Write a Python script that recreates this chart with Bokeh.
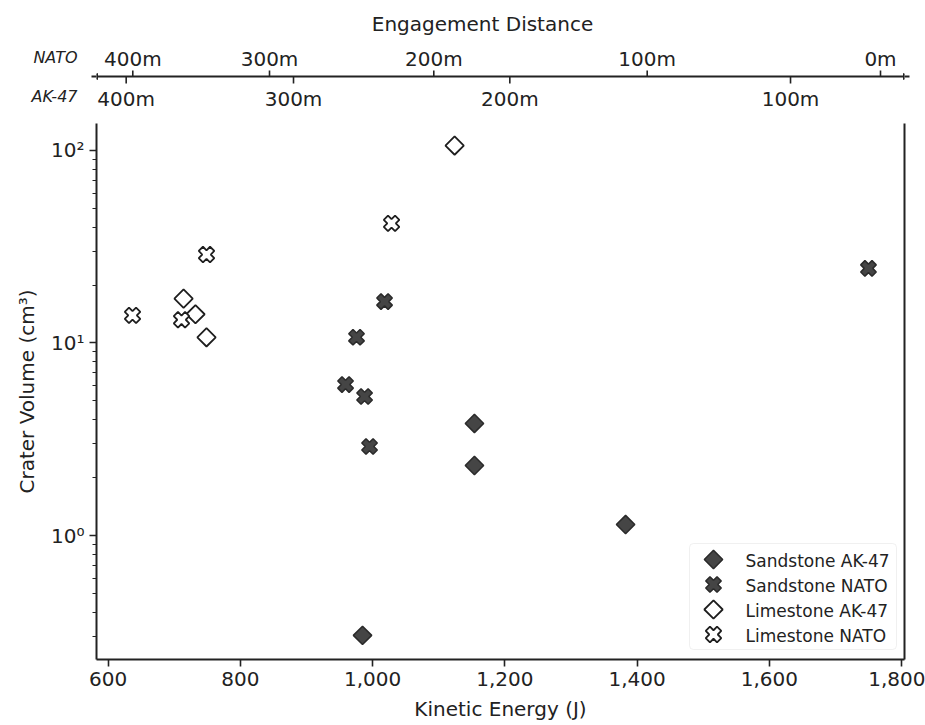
import math
import numpy as np
from bokeh.plotting import figure
from bokeh.layouts import column
from bokeh.models import (Range1d, LinearAxis, FixedTicker, NumeralTickFormatter,
                          Label, Arrow, NormalHead, BoxAnnotation)
from bokeh.embed import file_html
from bokeh.resources import INLINE
from bokeh.core.properties import value

# ---------------- data ----------------
ss_ak_energy = [984.7, 1154, 1154, 1382.6]
ss_ak_volume = [0.303, 3.82, 2.31, 1.14]
ss_nato_energy = [1750, 1018, 975.6, 959, 987.8, 995.3]
ss_nato_volume = [24.4, 16.4, 10.7, 6.08, 5.27, 2.90]
ls_ak_energy = [1124, 714, 732, 748.7]
ls_ak_volume = [106, 17.0, 14.1, 10.7]
ls_nato_energy = [1028.6, 748.7, 636.8, 710.9]
ls_nato_volume = [41.8, 28.8, 13.9, 13.2]

legend_labels = ["Sandstone AK-47", "Sandstone NATO", "Limestone AK-47", "Limestone NATO"]

energy_ticks = [600, 800, 1000, 1200, 1400, 1600, 1800]
volume_ticks = [1, 10, 100]
volume_tick_labels = ["10\u2070", "10\u00b9", "10\u00b2"]
volume_minor = [m * 10.0 ** e for e in (-1, 0, 1, 2) for m in range(2, 10)]

nato_distances = [400, 300, 200, 100, 0]
nato_distance_energy = [637.2, 844.0, 1092.5, 1415.3, 1768.2]
ak_distances = [400, 300, 200, 100]
ak_distance_energy = [627.2, 880.3, 1207.5, 1632.1]

FONT = "DejaVu Sans"
INK = "#222222"
X0, X1 = 582.3, 1804.5
Y0, Y1 = 0.227, 138
FL, FT = 96, 123          # frame left / top on the page
FW, FH = 808, 536
RB = 21                   # right border
scale = (X1 - X0) / FW


def fx(px):
    return X0 + (px - FL) * scale


def fy(py):
    l0, l1 = math.log10(Y0), math.log10(Y1)
    return 10 ** (l1 - (py - FT) * (l1 - l0) / FH)


# ---------------- main plot ----------------
p = figure(x_range=Range1d(X0, X1), y_range=Range1d(Y0, Y1), y_axis_type="log",
           frame_width=FW, frame_height=FH, min_border_left=FL, min_border_right=RB,
           min_border_top=0, min_border_bottom=0,
           output_backend="svg", toolbar_location=None)
p.grid.visible = False
p.outline_line_color = None
p.background_fill_color = "white"

xa = p.xaxis[0]
xa.ticker = FixedTicker(ticks=energy_ticks)
xa.formatter = NumeralTickFormatter(format="0,0")
xa.axis_label = "Kinetic Energy (J)"
ya = p.yaxis[0]
ya.ticker = FixedTicker(ticks=volume_ticks, minor_ticks=volume_minor)
ya.major_label_overrides = {t: l for t, l in zip(volume_ticks, volume_tick_labels)}
ya.axis_label = "Crater Volume (cm\u00b3)"
for ax in (xa, ya):
    ax.axis_line_color = INK
    ax.axis_line_width = 2
    ax.major_tick_line_color = INK
    ax.major_tick_line_width = 1.6
    ax.major_tick_out = 7
    ax.major_tick_in = 0
    ax.minor_tick_line_color = INK
    ax.minor_tick_line_width = 1.2
    ax.minor_tick_out = 4
    ax.minor_tick_in = 0
    ax.major_label_text_font = FONT
    ax.major_label_text_font_size = "20px"
    ax.major_label_text_color = INK
    ax.axis_label_text_font = FONT
    ax.axis_label_text_font_size = "20px"
    ax.axis_label_text_font_style = "normal"
    ax.axis_label_text_color = INK
    ax.axis_label_standoff = 8
    ax.major_label_standoff = 5
xa.minor_tick_out = 0
ya.axis_label_standoff = 9

ra = LinearAxis(ticker=FixedTicker(ticks=[]), axis_line_color=INK, axis_line_width=2,
                major_tick_out=0, minor_tick_out=0, major_label_text_font_size="0px")
p.add_layout(ra, "right")

series = [
    dict(x=ss_ak_energy, y=ss_ak_volume, marker="square", size=13,
         fill="#454545", line="#2a2a2a", lw=1.5),
    dict(x=ss_nato_energy, y=ss_nato_volume, marker="plus", size=16,
         fill="#454545", line="#2a2a2a", lw=1.5),
    dict(x=ls_ak_energy, y=ls_ak_volume, marker="square", size=13,
         fill="white", line="#1e1e1e", lw=1.8),
    dict(x=ls_nato_energy, y=ls_nato_volume, marker="plus", size=16,
         fill="white", line="#1e1e1e", lw=1.8),
]
for s in series:
    p.scatter(s["x"], s["y"], marker=s["marker"], angle=np.pi / 4, size=s["size"],
              fill_color=s["fill"], line_color=s["line"], line_width=s["lw"])

# ---- legend (drawn by hand so that the keys keep their 45 degree rotation) ----
LEG_L, LEG_R, LEG_T, LEG_B = 689, 896, 543, 649
ROW0, ROW_STEP, KEY_X, TXT_X = 559, 25, 713, 745
p.add_layout(BoxAnnotation(left=fx(LEG_L), right=fx(LEG_R), top=fy(LEG_T), bottom=fy(LEG_B),
                           fill_color="white", fill_alpha=0.85, line_color="#cccccc",
                           line_width=1, border_radius=4, level="underlay"))
for i, s in enumerate(series):
    p.scatter([fx(KEY_X)], [fy(ROW0 + ROW_STEP * i)], marker=s["marker"], angle=np.pi / 4,
              size=s["size"], fill_color=s["fill"], line_color=s["line"], line_width=s["lw"])
p.text(x=[fx(TXT_X)] * len(legend_labels),
       y=[fy(ROW0 + ROW_STEP * i + 1) for i in range(len(legend_labels))],
       text=legend_labels, text_align="left", text_baseline="middle",
       text_font=value(FONT), text_font_size="17px", text_color=INK)

# ---------------- header (engagement distance axes) ----------------
ph = figure(x_range=Range1d(X0, X1), y_range=Range1d(FT, 0),
            frame_width=FW, frame_height=FT, min_border_left=FL, min_border_right=RB,
            min_border_top=0, min_border_bottom=0, x_axis_location=None,
            output_backend="svg", toolbar_location=None)
ph.grid.visible = False
ph.outline_line_color = None
hy = ph.yaxis[0]
hy.ticker = FixedTicker(ticks=[57, 96])
hy.major_label_overrides = {57: "NATO", 96: "AK-47"}
hy.axis_line_color = None
hy.major_tick_out = 0
hy.major_tick_in = 0
hy.minor_tick_out = 0
hy.minor_tick_in = 0
hy.major_label_standoff = 19
hy.major_label_text_font = FONT
hy.major_label_text_font_style = "italic"
hy.major_label_text_font_size = "16px"
hy.major_label_text_color = INK

LINE_Y = 76
ph.add_layout(Arrow(x_start=fx(FL - 5), x_end=fx(FL + FW + 5), y_start=LINE_Y, y_end=LINE_Y,
                    line_color=INK, line_width=2,
                    start=NormalHead(size=6, fill_color=INK, line_color=INK, line_width=1),
                    end=NormalHead(size=6, fill_color=INK, line_color=INK, line_width=1)))
ph.segment(x0=nato_distance_energy, y0=LINE_Y, x1=nato_distance_energy, y1=LINE_Y - 6,
           line_color=INK, line_width=1.6)
ph.segment(x0=ak_distance_energy, y0=LINE_Y, x1=ak_distance_energy, y1=LINE_Y + 7,
           line_color=INK, line_width=1.6)
ph.text(x=nato_distance_energy, y=58, text=[f"{d}m" for d in nato_distances],
        text_align="center", text_baseline="middle", text_font=value(FONT),
        text_font_size="20px", text_color=INK)
ph.text(x=ak_distance_energy, y=98, text=[f"{d}m" for d in ak_distances],
        text_align="center", text_baseline="middle", text_font=value(FONT),
        text_font_size="20px", text_color=INK)
ph.add_layout(Label(x=fx(482), y=23, text="Engagement Distance",
                    text_align="center", text_baseline="middle",
                    text_font=FONT, text_font_size="20px", text_color=INK))

layout = column(ph, p, spacing=0)
open("out.html", "w").write(file_html(layout, INLINE))
